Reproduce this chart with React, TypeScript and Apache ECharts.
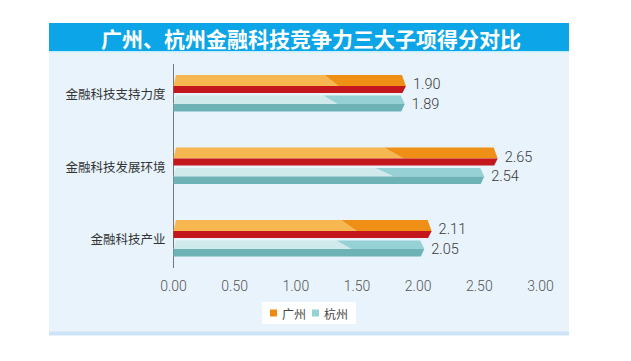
import React, { useEffect, useRef } from "react";
import * as echarts from "echarts";

const categories = ["金融科技支持力度", "金融科技发展环境", "金融科技产业"];
const gzValues = [1.9, 2.65, 2.11];
const hzValues = [1.89, 2.54, 2.05];
const seriesNames = ["广州", "杭州"];
const titleText = "广州、杭州金融科技竞争力三大子项得分对比";

const CJK = '"Noto Sans CJK SC", "Noto Sans", sans-serif';
const NUM = 'Roboto, "Liberation Sans", sans-serif';

const palettes = {
  gz: { light: "#f7b750", dark: "#ef8f15", bottom: "#c3171d", legend: "#ef8a10" },
  hz: { light: "#d0e9ea", dark: "#95d1d5", bottom: "#6db2b5", legend: "#95d1d5" },
};

function makeRender(kind: "gz" | "hz") {
  return (params: any, api: any) => {
    const v = api.value(0) as number;
    const ci = api.value(1) as number;
    const tip = api.coord([v, ci]);
    const base = api.coord([0, ci]);
    const xt = tip[0];
    const yc = tip[1];
    const x0 = base[0];
    const g =
      kind === "gz"
        ? { t: yc - 18.5, m: yc - 7.5, b: yc - 0.5 }
        : { t: yc + 2, m: yc + 10.5, b: yc + 18 };
    const pal = palettes[kind];
    const len = xt - x0;
    const sTop = x0 + len * 0.65;
    const sMid = x0 + len * 0.71;
    const dTop = 4;
    const dBot = 3.5;
    return {
      type: "group",
      children: [
        {
          type: "polygon",
          shape: { points: [[x0 + 2.5, g.t], [sTop, g.t], [sMid, g.m], [x0, g.m]] },
          style: { fill: pal.light },
        },
        {
          type: "polygon",
          shape: { points: [[sTop, g.t], [xt - dTop, g.t], [xt, g.m], [sMid, g.m]] },
          style: { fill: pal.dark },
        },
        {
          type: "polygon",
          shape: { points: [[x0, g.m], [xt, g.m], [xt - dBot, g.b], [x0, g.b]] },
          style: { fill: pal.bottom },
        },
        {
          type: "text",
          style: {
            text: v.toFixed(2),
            x: xt + 7,
            y: (g.t + g.b) / 2 + 0.5,
            align: "left",
            verticalAlign: "middle",
            fontSize: 14.5,
            fontWeight: 300,
            fontFamily: NUM,
            fill: "#3a3a3a",
          },
        },
      ],
    };
  };
}

export default function App() {
  const ref = useRef<HTMLDivElement>(null);
  useEffect(() => {
    if (!ref.current) return;
    const chart = echarts.init(ref.current, undefined, { renderer: "svg" });
    chart.setOption({
      animation: false,
      backgroundColor: "#ffffff",
      graphic: [
        { type: "rect", z: -10, shape: { x: 49, y: 23, width: 520, height: 312 }, style: { fill: "#e8f3fc" } },
        { type: "rect", z: -9, shape: { x: 49, y: 23, width: 520, height: 28 }, style: { fill: "#0ba5e8" } },
        { type: "rect", z: -9, shape: { x: 49, y: 51, width: 520, height: 1.5 }, style: { fill: "#c4eefb" } },
        { type: "rect", z: -9, shape: { x: 49, y: 331.5, width: 520, height: 4 }, style: { fill: "#cde3f6" } },
        { type: "line", z: -8, shape: { x1: 173.5, y1: 64, x2: 173.5, y2: 268 }, style: { stroke: "#777", lineWidth: 1 } },
        {
          type: "text",
          z: 10,
          style: {
            text: titleText,
            x: 311,
            y: 38,
            align: "center",
            verticalAlign: "middle",
            fontSize: 21,
            fontWeight: "bold",
            fontFamily: CJK,
            fill: "#ffffff",
          },
        },
      ],
      grid: { left: 173.5, right: 90.5, top: 57.25, bottom: 86.25 },
      xAxis: {
        type: "value",
        min: 0,
        max: 3,
        interval: 0.5,
        axisLine: { show: false },
        axisTick: { show: false },
        splitLine: { show: false },
        axisLabel: {
          formatter: (v: number) => v.toFixed(2),
          color: "#555",
          fontSize: 14,
          fontWeight: 300,
          fontFamily: NUM,
          margin: 4,
        },
      },
      yAxis: {
        type: "category",
        inverse: true,
        data: categories,
        axisLine: { show: false },
        axisTick: { show: false },
        axisLabel: { color: "#333", fontSize: 12.5, fontFamily: CJK, margin: 8 },
      },
      legend: {
        left: 262,
        top: 302,
        padding: [5, 8],
        itemWidth: 7,
        itemHeight: 7,
        itemGap: 6,
        icon: "rect",
        backgroundColor: "#ffffff",
        textStyle: { color: "#444", fontSize: 12, fontFamily: CJK },
        data: seriesNames,
      },
      series: [
        {
          type: "custom",
          name: seriesNames[0],
          renderItem: makeRender("gz"),
          encode: { x: 0, y: 1 },
          itemStyle: { color: palettes.gz.legend },
          data: gzValues.map((v, i) => [v, i]),
        },
        {
          type: "custom",
          name: seriesNames[1],
          renderItem: makeRender("hz"),
          encode: { x: 0, y: 1 },
          itemStyle: { color: palettes.hz.legend },
          data: hzValues.map((v, i) => [v, i]),
        },
      ],
    });
    return () => chart.dispose();
  }, []);
  return (
    <div
      ref={ref}
      style={{ position: "fixed", left: 0, top: 0, width: 631, height: 361 }}
    />
  );
}
